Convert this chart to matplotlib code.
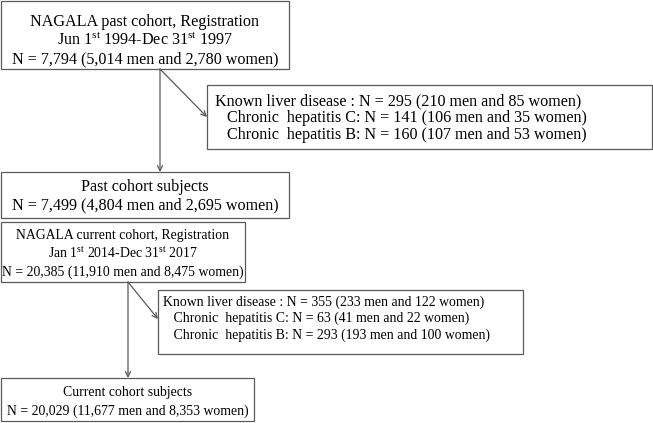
import matplotlib
matplotlib.use("Agg")
import matplotlib.pyplot as plt
from matplotlib.patches import Rectangle, FancyArrowPatch

plt.rcParams['font.family'] = ['Liberation Serif', 'DejaVu Serif']
plt.rcParams['mathtext.fontset'] = 'custom'
plt.rcParams['mathtext.rm'] = 'Liberation Serif'

### text of each box (one string per line)
past_reg = ["NAGALA past cohort, Registration",
            r"Jun 1$^{\rm st}$ 1994-Dec 31$^{\rm st}$ 1997",
            "N = 7,794 (5,014 men and 2,780 women)"]
past_excl = ["Known liver disease : N = 295 (210 men and 85 women)",
             "   Chronic  hepatitis C: N = 141 (106 men and 35 women)",
             "   Chronic  hepatitis B: N = 160 (107 men and 53 women)"]
past_subj = ["Past cohort subjects",
             "N = 7,499 (4,804 men and 2,695 women)"]
curr_reg = ["NAGALA current cohort, Registration",
            r"Jan 1$^{\rm st}$ 2014-Dec 31$^{\rm st}$ 2017",
            "N = 20,385 (11,910 men and 8,475 women)"]
curr_excl = ["Known liver disease : N = 355 (233 men and 122 women)",
             "   Chronic  hepatitis C: N = 63 (41 men and 22 women)",
             "   Chronic  hepatitis B: N = 293 (193 men and 100 women)"]
curr_subj = ["Current cohort subjects",
             "N = 20,029 (11,677 men and 8,353 women)"]

W, H = 653, 423
fig = plt.figure(figsize=(W / 100, H / 100), dpi=100)
ax = fig.add_axes([0, 0, 1, 1])
ax.set_xlim(0, W)
ax.set_ylim(H, 0)
ax.axis('off')

edge = '#5a5a5a'
fs_top = 11.6   # upper (past cohort) part is set larger
fs_bot = 9.9


def box(x0, y0, x1, y1, lines, baselines, fs, tx=None, ha='center'):
    ax.add_patch(Rectangle((x0, y0), x1 - x0, y1 - y0, fill=False,
                           edgecolor=edge, linewidth=0.9))
    if tx is None:
        tx = (x0 + x1) / 2
    for s, b in zip(lines, baselines):
        ax.text(tx, b, s, ha=ha, va='baseline', fontsize=fs, color='black')


def arrow(p0, p1):
    ax.add_patch(FancyArrowPatch(p0, p1, arrowstyle='->', mutation_scale=9,
                                 color=edge, linewidth=0.9,
                                 shrinkA=0, shrinkB=0))


box(1, 1, 289, 69, past_reg, [26, 45, 63], fs_top)
box(207, 85, 652, 149, past_excl, [105, 122, 139], fs_top, tx=215, ha='left')
box(1, 172, 289, 218, past_subj, [191, 209], fs_top)
box(1, 222, 245, 282, curr_reg, [239, 258, 276], fs_bot)
box(158, 290, 523, 354, curr_excl, [306, 322, 339], fs_bot, tx=163, ha='left')
box(1, 378, 254, 421, curr_subj, [396, 415], fs_bot)

arrow((160, 69), (160, 172))
arrow((160, 69), (207, 117))
arrow((128, 282), (128, 378))
arrow((128, 282), (158, 319))

fig.savefig('out.png', dpi=100)
